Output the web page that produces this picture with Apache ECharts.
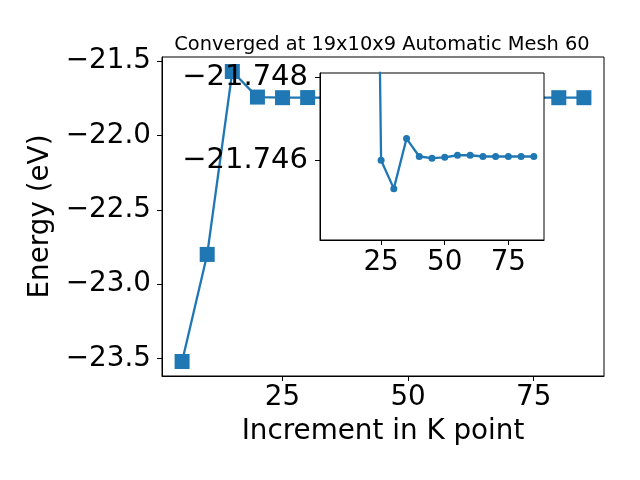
<!DOCTYPE html>
<html>
<head>
<meta charset="utf-8">
<script src="https://cdn.jsdelivr.net/npm/echarts@6/dist/echarts.min.js"></script>
<style>html,body{margin:0;padding:0;background:#fff;}#c{width:640px;height:480px;}</style>
</head>
<body>
<div id="c"></div>
<script>
const kPoints = [5, 10, 15, 20, 25, 30, 35, 40, 45, 50, 55, 60, 65, 70, 75, 80, 85];
const energy = [-23.52, -22.80, -21.57, -21.742, -21.74601, -21.74533, -21.74653, -21.74610, -21.74606, -21.74608, -21.74613, -21.74613, -21.74610, -21.74610, -21.74610, -21.74610, -21.74610];
const insetK = [20, 25, 30, 35, 40, 45, 50, 55, 60, 65, 70, 75, 80, 85];
const insetEnergy = [-21.770, -21.74601, -21.74533, -21.74653, -21.74610, -21.74606, -21.74608, -21.74613, -21.74613, -21.74610, -21.74610, -21.74610, -21.74610, -21.74610];
const mainXTicks = [25, 50, 75];
const mainYTicks = [-23.5, -23.0, -22.5, -22.0, -21.5];
const insetXTicks = [25, 50, 75];
const insetYTicks = [-21.748, -21.746];
const titleText = 'Converged at 19x10x9 Automatic Mesh 60';
const xName = 'Increment in K point';
const yName = 'Energy (eV)';

const FONT = 'DejaVu Sans';
const BIG = 27.8;
const BLUE = '#1f77b4';
function fmt(d) { return v => (v < 0 ? '\u2212' : '') + Math.abs(v).toFixed(d); }

const chart = echarts.init(document.getElementById('c'), null, {renderer: 'canvas'});
chart.setOption({
  animation: false,
  backgroundColor: '#fff',
  title: {
    text: titleText, left: 377, top: 30, textAlign: 'center',
    textStyle: {fontFamily: FONT, fontSize: 19.4, fontWeight: 'normal', color: '#000'}
  },
  grid: [
    {left: 162, right: 36, top: 57, bottom: 104, show: true, borderColor: '#000', borderWidth: 1, backgroundColor: 'transparent'},
    {left: 320, top: 73, width: 224, height: 167, show: true, borderColor: '#000', borderWidth: 1, backgroundColor: '#fff', zlevel: 1}
  ],
  xAxis: [
    {
      gridIndex: 0, type: 'value', min: 1, max: 89,
      name: xName, nameLocation: 'middle', nameGap: 42,
      nameTextStyle: {fontFamily: FONT, fontSize: BIG, color: '#000'},
      axisLine: {show: true, onZero: false, lineStyle: {color: '#000', width: 1}},
      axisTick: {show: true, length: 5, lineStyle: {color: '#000'}, customValues: mainXTicks},
      axisLabel: {fontFamily: FONT, fontSize: BIG, color: '#000', margin: 8, customValues: mainXTicks, formatter: fmt(0)},
      splitLine: {show: false}
    },
    {
      gridIndex: 1, type: 'value', min: 1, max: 89, zlevel: 1,
      axisLine: {show: true, onZero: false, lineStyle: {color: '#000', width: 1}},
      axisTick: {show: true, length: 5, lineStyle: {color: '#000'}, customValues: insetXTicks},
      axisLabel: {fontFamily: FONT, fontSize: BIG, color: '#000', margin: 9, customValues: insetXTicks, formatter: fmt(0)},
      splitLine: {show: false}
    }
  ],
  yAxis: [
    {
      gridIndex: 0, type: 'value', min: -23.6175, max: -21.4725,
      name: yName, nameLocation: 'middle', nameGap: 97, nameRotate: 90,
      nameTextStyle: {fontFamily: FONT, fontSize: BIG, color: '#000'},
      axisLine: {show: true, onZero: false, lineStyle: {color: '#000', width: 1}},
      axisTick: {show: true, length: 5, lineStyle: {color: '#000'}, customValues: mainYTicks},
      axisLabel: {fontFamily: FONT, fontSize: BIG, color: '#000', margin: 11, customValues: mainYTicks, formatter: fmt(1)},
      splitLine: {show: false}
    },
    {
      gridIndex: 1, type: 'value', min: -21.7481, max: -21.7441, inverse: true, zlevel: 1,
      axisLine: {show: true, onZero: false, lineStyle: {color: '#000', width: 1}},
      axisTick: {show: true, length: 5, lineStyle: {color: '#000'}, customValues: insetYTicks},
      axisLabel: {fontFamily: FONT, fontSize: 29, color: '#000', margin: 12, customValues: insetYTicks, formatter: fmt(3)},
      splitLine: {show: false}
    }
  ],
  series: [
    {
      type: 'line', xAxisIndex: 0, yAxisIndex: 0,
      data: kPoints.map((k, i) => [k, energy[i]]),
      symbol: 'rect', symbolSize: 15, showAllSymbol: true,
      lineStyle: {color: BLUE, width: 2.3}, itemStyle: {color: BLUE},
      clip: false
    },
    {
      type: 'line', xAxisIndex: 1, yAxisIndex: 1, zlevel: 1,
      data: insetK.map((k, i) => [k, insetEnergy[i]]),
      symbol: 'circle', symbolSize: 7, showAllSymbol: true,
      lineStyle: {color: BLUE, width: 2.3}, itemStyle: {color: BLUE},
      clip: true
    }
  ]
});
</script>
</body>
</html>
